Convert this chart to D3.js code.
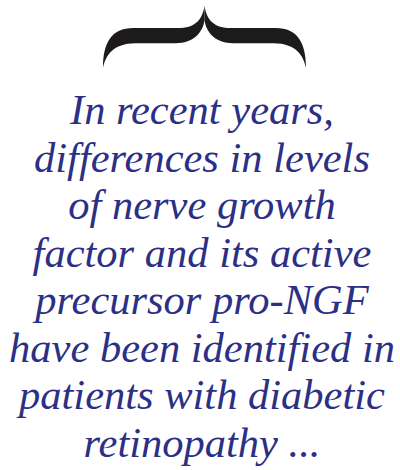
<!DOCTYPE html>
<html lang="en">
<head>
  <meta charset="UTF-8">
  <title>Pull quote</title>
  <script src="https://d3js.org/d3.v7.min.js"></script>
  <style>
    html, body { margin: 0; padding: 0; background: #fff; }
    svg { display: block; }
    .quote {
      font-family: "Liberation Serif", "Times New Roman", serif;
      font-style: italic;
      font-size: 42.5px;
      fill: #2c2f86;
    }
  </style>
</head>
<body>

<svg width="400" height="470"></svg>

<script>
  // Lignes du texte
  const lines = [
    "In recent years,",
    "differences in levels",
    "of nerve growth",
    "factor and its active",
    "precursor pro-NGF",
    "have been identified in",
    "patients with diabetic",
    "retinopathy ..."
  ];

  // Accolade, moitié gauche, en coordonnées unitaires (0..1)
  const braceHalf = [
    ["M", [0.5, 0]],
    ["C", [0.488, 0.24], [0.45, 0.355], [0.37, 0.355]],
    ["L", [0.15, 0.355]],
    ["C", [0.04, 0.355], [0, 0.6], [0, 1]],
    ["C", [0.012, 0.8], [0.05, 0.6], [0.16, 0.6]],
    ["L", [0.36, 0.6]],
    ["C", [0.44, 0.6], [0.49, 0.45], [0.5, 0.23]]
  ];

  const svg = d3.select("svg"),
        width = +svg.attr("width");

  // Accolade
  const bx = d3.scaleLinear().domain([0, 1]).range([103, 306]);
  const by = d3.scaleLinear().domain([0, 1]).range([6, 68]);

  function half(side) {
    const p = d3.path();
    const pt = a => [bx(side < 0 ? a[0] : 1 - a[0]), by(a[1])];
    braceHalf.forEach(([cmd, ...pts]) => {
      const q = pts.map(pt);
      if (cmd === "M") p.moveTo(...q[0]);
      else if (cmd === "L") p.lineTo(...q[0]);
      else p.bezierCurveTo(...q[0], ...q[1], ...q[2]);
    });
    p.closePath();
    return p.toString();
  }

  svg.append("g")
    .selectAll("path")
    .data([-1, 1])
    .join("path")
      .attr("d", d => half(d))
      .attr("fill", "#1c1a1a");

  // Texte
  const y = d3.scalePoint()
      .domain(d3.range(lines.length))
      .range([124, 457]);

  svg.append("g")
    .selectAll("text")
    .data(lines)
    .join("text")
      .attr("class", "quote")
      .attr("x", width / 2 + 2)
      .attr("y", (d, i) => y(i))
      .attr("text-anchor", "middle")
      .text(d => d);
</script>

</body>
</html>
